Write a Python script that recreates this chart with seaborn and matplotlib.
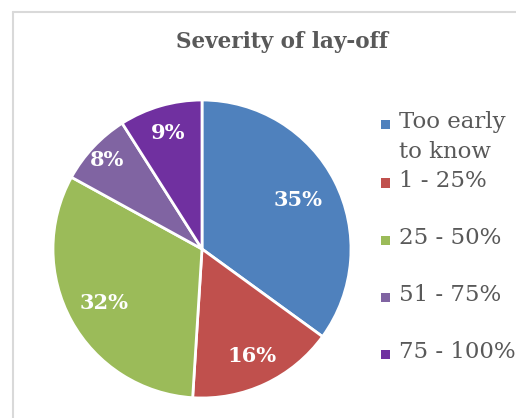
import numpy as np
import matplotlib
matplotlib.use("Agg")
import matplotlib.pyplot as plt
import seaborn as sns
from matplotlib.patches import Rectangle
from matplotlib.lines import Line2D

sns.set_theme(style="white")
plt.rcParams["font.family"] = ["DejaVu Serif"]

categories = ["Too early\nto know", "1 - 25%", "25 - 50%", "51 - 75%", "75 - 100%"]
shares = [35, 16, 32, 8, 9]
colors = ["#4F81BD", "#C0504D", "#9BBB59", "#8064A2", "#7030A0"]
title = "Severity of lay-off"

# radial position of each percentage label as a fraction of the radius
label_r = [0.72, 0.79, 0.75, 0.87, 0.81]

W, H = 516, 418
fig = plt.figure(figsize=(W / 100, H / 100), dpi=100)
fig.patch.set_facecolor("white")

# chart frame (left and top edges visible)
fx, fy = 12.5 / W, 1 - 11.5 / H
fig.add_artist(Line2D([fx, fx], [0, fy], transform=fig.transFigure,
                      color="#D9D9D9", linewidth=1.5))
fig.add_artist(Line2D([fx, 1], [fy, fy], transform=fig.transFigure,
                      color="#D9D9D9", linewidth=1.5))

R = 149 / H
cx, cy = 202 / W, (H - 249) / H
ax = fig.add_axes([cx - R * H / W, cy - R, 2 * R * H / W, 2 * R])
wedges, _ = ax.pie(shares, colors=colors, startangle=90, counterclock=False,
                   wedgeprops=dict(edgecolor="white", linewidth=2))
ax.set_xlim(-1, 1)
ax.set_ylim(-1, 1)
ax.set_aspect("equal")
ax.axis("off")

for w, v, r in zip(wedges, shares, label_r):
    ang = np.deg2rad((w.theta1 + w.theta2) / 2)
    ax.text(r * np.cos(ang), r * np.sin(ang), f"{v}%", ha="center", va="center",
            color="white", fontsize=15, fontweight="bold")

fig.text(282 / W, 1 - 42 / H, title, ha="center", va="center",
         fontsize=15.5, fontweight="bold", color="#595959")

# legend
legend_y = [124, 183, 240, 297, 354]
for lab, col, y in zip(categories, colors, legend_y):
    fig.add_artist(Rectangle((381 / W, 1 - (y + 4.5) / H), 9 / W, 9 / H,
                             transform=fig.transFigure, facecolor=col, edgecolor="none"))
    fig.text(399 / W, 1 - (y - 13) / H, lab, ha="left", va="top",
             fontsize=16.5, color="#595959", linespacing=1.45)

fig.savefig("out.png", dpi=100)
